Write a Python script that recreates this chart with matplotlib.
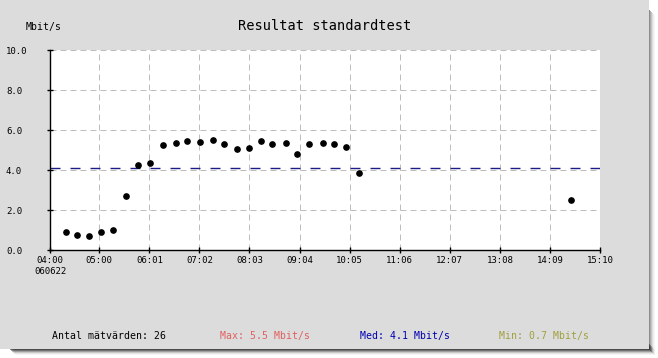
import matplotlib
matplotlib.use("Agg")
import matplotlib.pyplot as plt
from matplotlib.patches import Rectangle
from matplotlib.transforms import blended_transform_factory

plt.rcParams["font.family"] = ["DejaVu Sans Mono"]
plt.rcParams["lines.scale_dashes"] = False

# ---- data -------------------------------------------------------------------
TIMES = ["04:19", "04:33", "04:48", "05:02", "05:17", "05:33", "05:47",
         "06:02", "06:18", "06:33", "06:47", "07:03", "07:18", "07:32",
         "07:48", "08:03", "08:17", "08:31", "08:47", "09:01", "09:16",
         "09:32", "09:46", "10:01", "10:17", "14:35"]
MBITS = [0.88, 0.73, 0.68, 0.88, 0.98, 2.68, 4.23, 4.33, 5.23, 5.33, 5.43,
         5.38, 5.48, 5.28, 5.03, 5.08, 5.43, 5.28, 5.33, 4.78, 5.28, 5.33,
         5.28, 5.13, 3.83, 2.48]
XTICKS = ["04:00", "05:00", "06:01", "07:02", "08:03", "09:04", "10:05",
          "11:06", "12:07", "13:08", "14:09", "15:10"]
DATE = "060622"
YTICKS = [0.0, 2.0, 4.0, 6.0, 8.0, 10.0]
MED = 4.1
N_VALUES = 26
MAX_V, MIN_V = 5.5, 0.7

# ---- style ------------------------------------------------------------------
W, H = 658, 358
PANEL = "#dcdcdc"; GRID = "#bdbdbd"
MED_C = "#1c1c88"; RED = "#e06060"; BLUE = "#0000b0"; OLIVE = "#a0a040"
ONE_PX = 0.72  # 1 px in points at dpi 100


def mins(t):
    h, m = t.split(":")
    return int(h) * 60 + int(m)


def px(x):
    return x / W


def py(y):
    return 1 - y / H


fig = plt.figure(figsize=(W / 100, H / 100), dpi=100)
fig.patch.set_facecolor("white")

# drop shadow + grey panel
for i, a in enumerate([0.55, 0.4, 0.28, 0.16, 0.08, 0.04]):
    fig.patches.append(Rectangle((px(10 + i), py(350 + i)), px(640), 6 / H,
                                 transform=fig.transFigure, color="#303030",
                                 alpha=a, lw=0, zorder=0))
    fig.patches.append(Rectangle((px(649 + i), py(350 + i)), 1 / W, 340 / H,
                                 transform=fig.transFigure, color="#303030",
                                 alpha=a, lw=0, zorder=0))
fig.patches.append(Rectangle((0, py(349)), px(649), 349 / H,
                             transform=fig.transFigure, color=PANEL, lw=0,
                             zorder=1))

ax = fig.add_axes([px(50), py(250), px(550), 200 / H])
ax.set_facecolor("white")
ax.set_zorder(2)

xs = [mins(t) for t in TIMES]
xt = [mins(t) for t in XTICKS]
ax.set_xlim(xt[0], xt[-1])
ax.set_ylim(YTICKS[0], YTICKS[-1])

for x in xt[1:]:
    ax.axvline(x, color=GRID, lw=ONE_PX, dashes=(4.3, 2.9), zorder=1)
for y in YTICKS[1:]:
    ax.axhline(y, color=GRID, lw=ONE_PX, dashes=(4.3, 2.9), zorder=1)

ax.axhline(MED, color=MED_C, lw=1.0, dashes=(7.2, 7.2), zorder=2)
ax.plot(xs, MBITS, "o", color="black", ms=3.8, zorder=3)

for s in ["top", "right"]:
    ax.spines[s].set_visible(False)
for s in ["left", "bottom"]:
    ax.spines[s].set_linewidth(1.0)
    ax.spines[s].set_zorder(4)

ax.set_xticks(xt)
ax.set_xticklabels([XTICKS[0] + "\n" + DATE] + XTICKS[1:], fontsize=6.5,
                   va="top", linespacing=1.2)
ax.set_yticks(YTICKS)
ax.set_yticklabels([])
ax.tick_params(direction="inout", length=5, width=1.0, pad=2)

tr = blended_transform_factory(fig.transFigure, ax.transData)
for y in YTICKS:
    ax.text(px(6), y - 0.1, f"{y:.1f}", transform=tr, fontsize=6.5,
            ha="left", va="center")

fig.text(px(325), py(26), "Resultat standardtest", fontsize=9.8,
         ha="center", va="center")
fig.text(px(26), py(27), "Mbit/s", fontsize=7.1, ha="left", va="center")

fig.text(px(52), py(336), f"Antal mätvärden: {N_VALUES}", fontsize=7.1,
         ha="left", va="center")
fig.text(px(220), py(336), f"Max: {MAX_V} Mbit/s", fontsize=7.1,
         ha="left", va="center", color=RED)
fig.text(px(360), py(336), f"Med: {MED} Mbit/s", fontsize=7.1,
         ha="left", va="center", color=BLUE)
fig.text(px(499), py(336), f"Min: {MIN_V} Mbit/s", fontsize=7.1,
         ha="left", va="center", color=OLIVE)

fig.savefig("out.png", dpi=100)
